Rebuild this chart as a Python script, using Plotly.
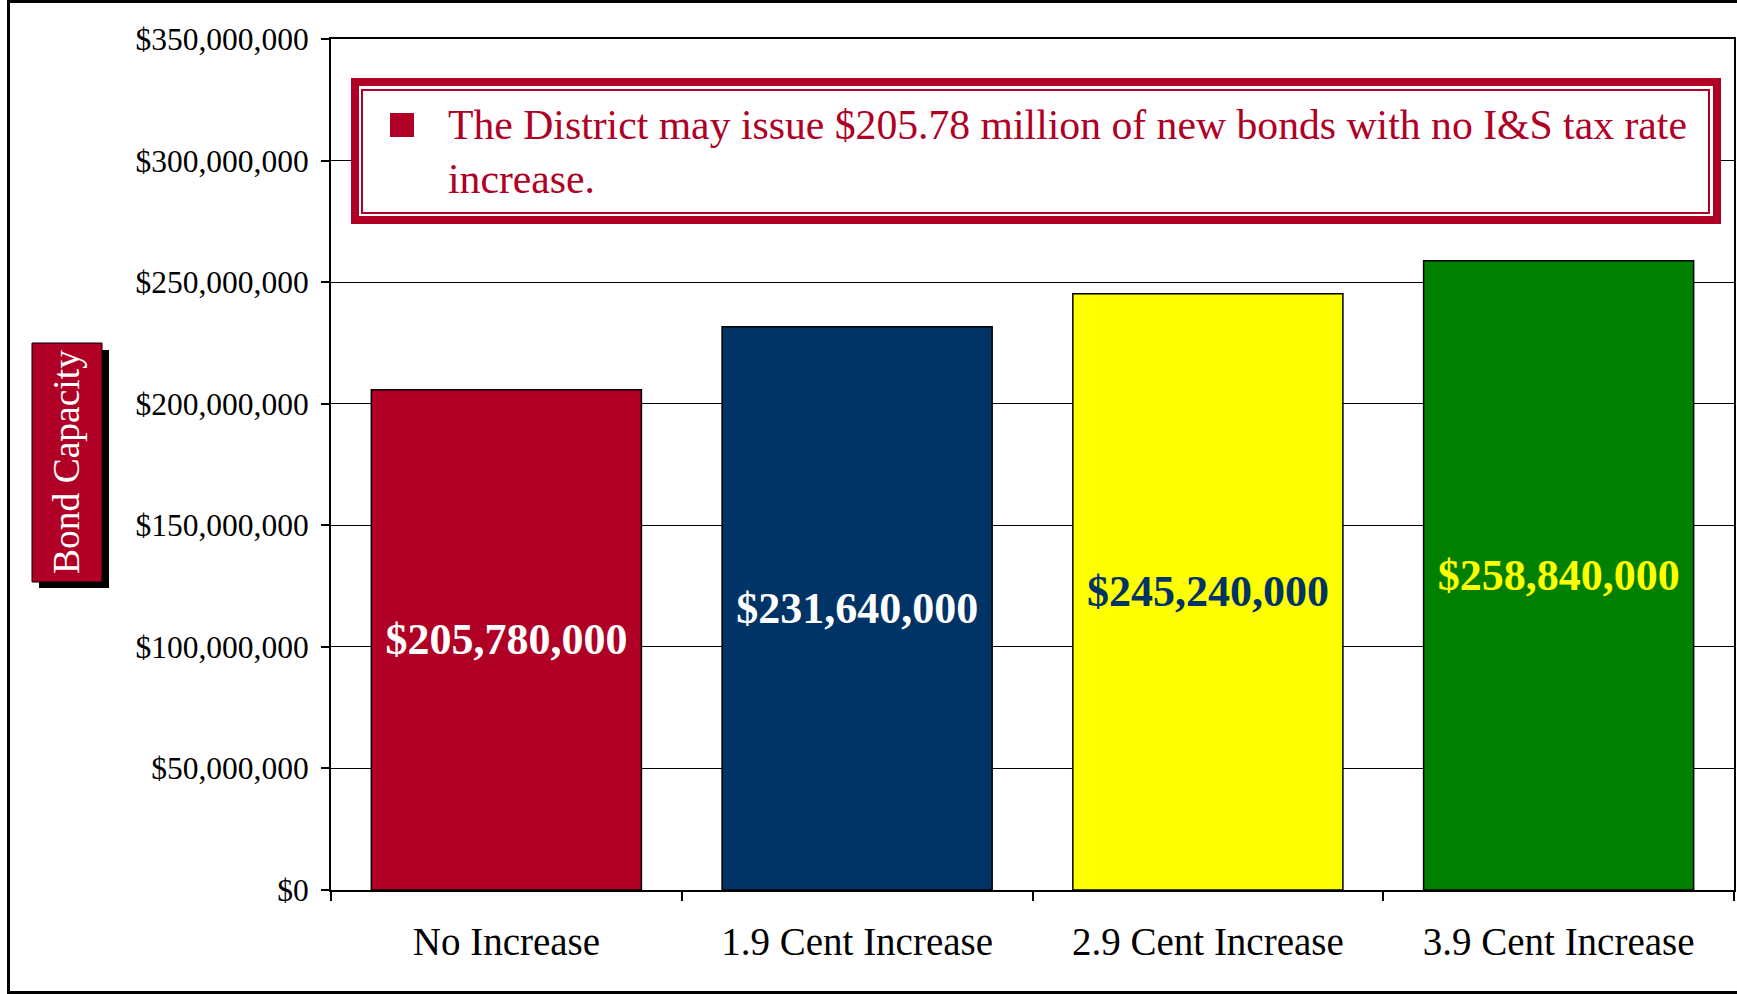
import plotly.graph_objects as go

categories = ["No Increase", "1.9 Cent Increase", "2.9 Cent Increase", "3.9 Cent Increase"]
capacity = [205780000, 231640000, 245240000, 258840000]
bar_colors = ["#B00026", "#003366", "#FFFF00", "#008000"]
label_colors = ["#FFFFFF", "#FFFFFF", "#003366", "#FFFF00"]
y_ticks = [0, 50e6, 100e6, 150e6, 200e6, 250e6, 300e6, 350e6]
y_tick_text = ["$0", "$50,000,000", "$100,000,000", "$150,000,000",
               "$200,000,000", "$250,000,000", "$300,000,000", "$350,000,000"]
note = "The District may issue $205.78 million of new bonds with no I&S tax rate<br>increase."
y_title = "Bond Capacity"

SERIF = "Liberation Serif, Times New Roman, serif"
RED = "#B00026"

W, H = 1737, 994
L, R, T, B = 331, 1734, 39, 890   # plot area in page pixels


def px_x(x):
    return (x - L) / (R - L)


def px_y(y):
    return (B - y) / (B - T)


def rect(x0, y0, x1, y1, **kw):
    return dict(type="rect", xref="paper", yref="paper",
                x0=px_x(x0), x1=px_x(x1), y0=px_y(y1), y1=px_y(y0), **kw)


fig = go.Figure(go.Bar(
    x=categories, y=capacity,
    marker=dict(color=bar_colors, line=dict(color="black", width=1.5)),
    texttemplate="<b>$%{y:,.0f}</b>",
    textposition="inside", insidetextanchor="middle", textangle=0,
    constraintext="none",
    textfont=dict(family=SERIF, size=44, color=label_colors),
    hoverinfo="skip",
))

shapes = [
    # outer frame of the slide
    rect(8.5, 1.5, 1760, 992.5, line=dict(color="black", width=3)),
    # note box (double border)
    rect(355, 82, 1717, 220, line=dict(color=RED, width=8), fillcolor="white", layer="above"),
    rect(362, 90, 1709, 213, line=dict(color=RED, width=2), layer="above"),
    rect(390, 113, 414, 137, line=dict(width=0), fillcolor=RED, layer="above"),
    # y title box with shadow
    rect(39, 350, 109, 588, line=dict(width=0), fillcolor="black"),
    rect(32, 343, 102, 582, line=dict(color="black", width=1), fillcolor=RED),
]

annotations = [
    dict(text=note, xref="paper", yref="paper", x=px_x(446), y=px_y(100),
         xanchor="left", yanchor="top", align="left", showarrow=False,
         font=dict(family=SERIF, size=41.7, color=RED)),
    dict(text=y_title, xref="paper", yref="paper", x=px_x(67), y=px_y(462),
         xanchor="center", yanchor="middle", textangle=-90, showarrow=False,
         font=dict(family=SERIF, size=37.5, color="white")),
]

fig.update_layout(
    width=W, height=H,
    margin=dict(l=L, r=W - R, t=T, b=H - B, autoexpand=False),
    plot_bgcolor="white", paper_bgcolor="white",
    showlegend=False, bargap=0.23,
    shapes=shapes, annotations=annotations,
    font=dict(family=SERIF, color="black"),
)
fig.update_xaxes(
    showline=True, linecolor="black", linewidth=2, mirror=True,
    ticks="outside", tickson="boundaries", ticklen=9, tickwidth=2, tickcolor="black",
    tickfont=dict(family=SERIF, size=39, color="black"),
    ticklabelstandoff=16, showgrid=False,
)
fig.update_yaxes(
    range=[0, 350e6], tickvals=y_ticks, ticktext=y_tick_text,
    showline=True, linecolor="black", linewidth=2, mirror=True,
    ticks="outside", ticklen=8, tickwidth=2, tickcolor="black",
    tickfont=dict(family=SERIF, size=31.5, color="black"),
    ticklabelstandoff=6,
    gridcolor="black", gridwidth=1, zeroline=False,
)

fig.write_html(
    "out.html",
    config={"displayModeBar": False},
    post_script="document.body.style.margin='0';document.body.style.overflow='hidden';",
)
